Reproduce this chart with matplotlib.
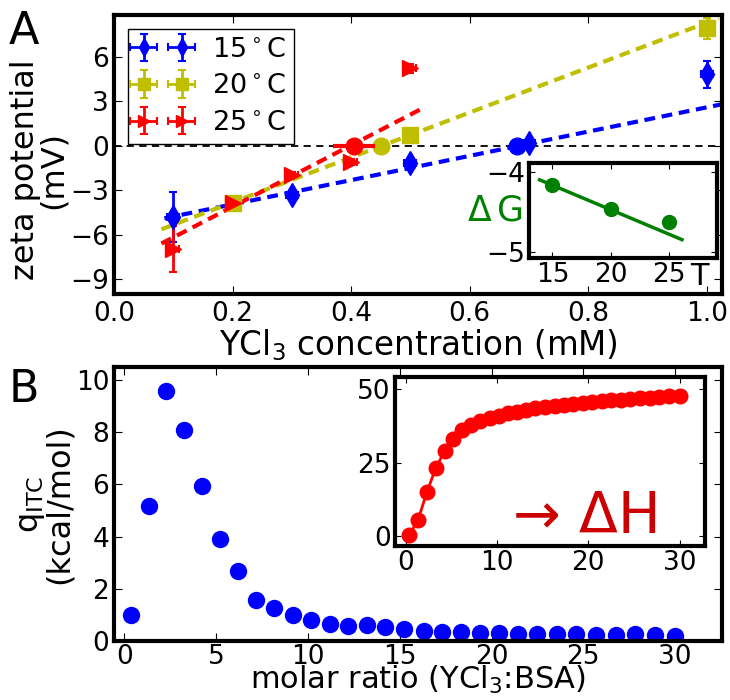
import numpy as np
import matplotlib
matplotlib.use('Agg')
import matplotlib.pyplot as plt

plt.rcParams['font.family'] = 'DejaVu Sans'
plt.rcParams['mathtext.fontset'] = 'dejavusans'
plt.rcParams['xtick.direction'] = 'in'
plt.rcParams['ytick.direction'] = 'in'
plt.rcParams['xtick.top'] = True
plt.rcParams['ytick.right'] = True
plt.rcParams['xtick.major.size'] = 6
plt.rcParams['ytick.major.size'] = 6
plt.rcParams['xtick.major.pad'] = 5
plt.rcParams['font.size'] = 19

### PANEL A: zeta potential vs YCl3 concentration
conc_15 = [0.1, 0.3, 0.5, 0.7, 1.0]
zeta_15 = [-4.8, -3.3, -1.2, 0.15, 4.8]
yerr_15 = [1.7, 0.2, 0.2, 0.2, 0.9]

conc_20 = [0.2, 0.5, 1.0]
zeta_20 = [-3.9, 0.7, 7.9]
yerr_20 = [0.2, 0.2, 0.7]

conc_25 = [0.1, 0.2, 0.3, 0.4, 0.5]
zeta_25 = [-7.0, -3.9, -2.0, -1.1, 5.2]
yerr_25 = [1.55, 0.2, 0.2, 0.2, 0.3]

# fitted lines (end points) and zero crossings
fit_x_15 = [0.085, 1.03]
fit_y_15 = [-4.9, 2.82]
fit_x_20 = [0.08, 1.02]
fit_y_20 = [-5.64, 8.58]
fit_x_25 = [0.08, 0.52]
fit_y_25 = [-6.6, 2.5]
zero_15 = 0.68
zero_20 = 0.45
zero_25 = 0.405
zero_25_err = 0.035

# inset: Delta G vs T
temp = [15, 20, 25]
dG = [-4.17, -4.47, -4.63]
dG_fit_x = [13.9, 26.1]
dG_fit_y = [-4.1, -4.85]

### PANEL B: ITC
molar_ratio = [0.37, 1.33, 2.3, 3.26, 4.25, 5.2, 6.2, 7.18, 8.16, 9.17,
               10.2, 11.2, 12.2, 13.2, 14.2, 15.25, 16.3, 17.3, 18.35, 19.4,
               20.4, 21.45, 22.5, 23.55, 24.6, 25.7, 26.75, 27.8, 28.9, 30.0]
q_itc = [1.0, 5.19, 9.59, 8.08, 5.95, 3.92, 2.68, 1.56, 1.25, 1.0,
         0.82, 0.65, 0.59, 0.60, 0.54, 0.46, 0.37, 0.35, 0.35, 0.32,
         0.30, 0.28, 0.27, 0.26, 0.26, 0.23, 0.23, 0.26, 0.22, 0.19]
q_cum = [0.3, 5.5, 15.0, 23.0, 29.0, 33.0, 36.0, 37.8, 39.1, 40.1,
         41.0, 41.7, 42.3, 42.9, 43.4, 43.9, 44.3, 44.7, 45.0, 45.3,
         45.6, 45.9, 46.2, 46.4, 46.7, 46.9, 47.1, 47.4, 47.6, 47.8]

fig = plt.figure(figsize=(7.3, 7.0), dpi=100)

axA = fig.add_axes([0.1562, 0.58, 0.8329, 0.3986])
axB = fig.add_axes([0.1562, 0.0843, 0.8329, 0.3914])
insA = fig.add_axes([0.7247, 0.6314, 0.2575, 0.1357])
insB = fig.add_axes([0.5411, 0.22, 0.4247, 0.2414])

for ax in [axA, axB, insA, insB]:
    for sp in ax.spines.values():
        sp.set_linewidth(3)

ekw = dict(elinewidth=2, capsize=3, capthick=1.5, ls='none', ms=12)

axA.axhline(0, color='k', lw=1.3, dashes=(4, 3), zorder=1)

axA.errorbar(conc_15, zeta_15, yerr=yerr_15, xerr=0.01, fmt='d', color='b',
             mec='b', label='15$^\\circ$C', **ekw)
axA.errorbar(conc_20, zeta_20, yerr=yerr_20, xerr=0.01, fmt='s', color='y',
             mec='y', label='20$^\\circ$C', **ekw)
axA.errorbar(conc_25, zeta_25, yerr=yerr_25, xerr=0.01, fmt='>', color='r',
             mec='r', label='25$^\\circ$C', **ekw)

axA.plot(fit_x_15, fit_y_15, color='b', lw=3, dashes=(2.6, 1.6))
axA.plot(fit_x_20, fit_y_20, color='y', lw=3, dashes=(2.6, 1.6))
axA.plot(fit_x_25, fit_y_25, color='r', lw=3, dashes=(2.6, 1.6))

axA.plot([zero_15], [0], 'o', color='b', mec='b', ms=12)
axA.plot([zero_20], [0], 'o', color='y', mec='y', ms=12)
axA.errorbar([zero_25], [0], xerr=zero_25_err, fmt='o', color='r', mec='r',
             ms=12, elinewidth=3, capsize=0)

axA.set_xlim(0, 1.026)
axA.set_ylim(-10, 8.8)
axA.set_xticks(np.arange(0, 1.01, 0.2))
axA.set_xticklabels(['0.0', '0.2', '0.4', '0.6', '0.8', '1.0'])
axA.set_yticks([-9, -6, -3, 0, 3, 6])
axA.set_xlabel('YCl$_3$ concentration (mM)', fontsize=23.5, labelpad=0)
axA.set_ylabel('zeta potential\n(mV)', fontsize=23, linespacing=0.88)
axA.yaxis.set_label_coords(-0.074, 0.445)

leg = axA.legend(loc='upper left', numpoints=2, fontsize=19.5,
                 markerscale=0.75, fancybox=False, framealpha=1,
                 edgecolor='k', bbox_to_anchor=(0.0, 1.0), borderaxespad=0.5,
                 handlelength=2.0, handletextpad=0.8, labelspacing=0.4,
                 borderpad=0.3)
leg.get_frame().set_linewidth(1.0)

# inset A
insA.plot(dG_fit_x, dG_fit_y, color='g', lw=2.5)
insA.plot(temp, dG, 'o', color='g', mec='g', ms=10)
insA.set_xlim(13, 29.1)
insA.set_ylim(-5.08, -3.89)
insA.set_xticks([15, 20, 25])
insA.set_yticks([-4, -5])
insA.tick_params(labelsize=19, length=4, pad=3)
insA.text(0.904, -0.19, 'T', transform=insA.transAxes, ha='center',
          va='center', fontsize=22)
insA.text(-0.035, 0.5, '$\\Delta\\,$G', transform=insA.transAxes, ha='right',
          va='center', fontsize=25, color='g')

# panel B
axB.plot(molar_ratio, q_itc, 'o', color='b', mec='b', ms=11.5)
axB.set_xlim(-0.55, 32.55)
axB.set_ylim(0, 10.5)
axB.set_xticks([0, 5, 10, 15, 20, 25, 30])
axB.set_yticks([0, 2, 4, 6, 8, 10])
axB.tick_params(axis='x', pad=2)
axB.set_xlabel('molar ratio (YCl$_3$:BSA)', fontsize=22)
axB.xaxis.set_label_coords(0.5, -0.083)
axB.set_ylabel('q$_{\\mathrm{ITC}}$\n(kcal/mol)', fontsize=23,
               linespacing=0.88)
axB.yaxis.set_label_coords(-0.064, 0.5)

# inset B
insB.plot(molar_ratio, q_cum, '-o', color='r', mec='r', ms=10.5, lw=2)
insB.set_xlim(-1.2, 32.8)
insB.set_ylim(-3.4, 54.1)
insB.set_xticks([0, 10, 20, 30])
insB.set_yticks([0, 25, 50])
insB.tick_params(labelsize=19, length=4, pad=3)
insB.text(0.62, 0.075, '\u2192 \u0394H', transform=insB.transAxes,
          ha='center', va='baseline', fontsize=41, color='#cc0000')

fig.text(0.012, 0.985, 'A', fontsize=32, va='top', ha='left')
fig.text(0.012, 0.475, 'B', fontsize=32, va='top', ha='left')

fig.savefig('out.png', dpi=100)
